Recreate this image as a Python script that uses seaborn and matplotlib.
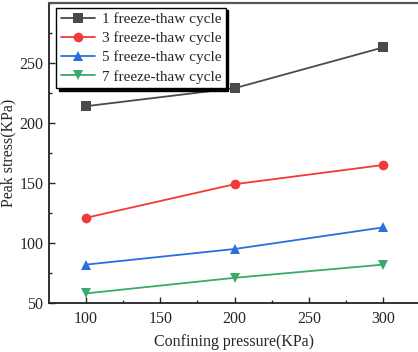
import matplotlib
matplotlib.use("Agg")
import matplotlib.pyplot as plt
import pandas as pd
import seaborn as sns
from matplotlib.ticker import MultipleLocator

pressure = [100, 200, 300]
cycle_1 = [214, 229, 263]
cycle_3 = [121, 149, 165]
cycle_5 = [82, 95, 113]
cycle_7 = [58, 71, 82]
labels = ["1 freeze-thaw cycle", "3 freeze-thaw cycle",
          "5 freeze-thaw cycle", "7 freeze-thaw cycle"]

rows = []
for lab, vals in zip(labels, [cycle_1, cycle_3, cycle_5, cycle_7]):
    for p, v in zip(pressure, vals):
        rows.append({"pressure": p, "stress": v, "series": lab})
df = pd.DataFrame(rows)

sns.set_theme(style="ticks")
plt.rcParams["font.family"] = ["Liberation Serif", "DejaVu Serif"]

colors = ["#4a4a4a", "#f03a3a", "#2a6fe0", "#3aaa6a"]
markers = ["s", "o", "^", "v"]

fig = plt.figure(figsize=(4.18, 3.52), dpi=100)
ax = fig.add_axes([49 / 418, 49 / 352, 1 - 49 / 418, 300 / 352])

sns.lineplot(data=df, x="pressure", y="stress", hue="series", style="series",
             palette=colors, markers=markers, dashes=False, markersize=7,
             markeredgewidth=0, linewidth=1.3, ax=ax)

ax.set_xlim(75.1, 323.4)
ax.set_ylim(50, 300)
ax.set_xticks([100, 150, 200, 250, 300])
ax.set_yticks([50, 100, 150, 200, 250])
ax.xaxis.set_minor_locator(MultipleLocator(25))
ax.yaxis.set_minor_locator(MultipleLocator(25))
ax.tick_params(which="major", direction="in", length=4, width=1, labelsize=11.5, pad=4)
ax.tick_params(axis="x", which="major", pad=6)
ax.tick_params(which="minor", direction="in", length=2.5, width=1)

ax.set_xlabel("Confining pressure(KPa)", fontsize=11.5, labelpad=5)
ax.set_ylabel("Peak stress(KPa)", fontsize=11.5, labelpad=2)

for s in ["left", "bottom"]:
    ax.spines[s].set_linewidth(1.3)
    ax.spines[s].set_color("#222222")
ax.spines["top"].set_linewidth(1.6)
ax.spines["top"].set_color("#555555")
ax.spines["right"].set_visible(False)

leg = ax.legend(loc="upper left", bbox_to_anchor=(0.012, 0.995), fontsize=11,
                frameon=True, fancybox=False, edgecolor="black",
                shadow={"color": "black", "alpha": 1}, handlelength=2.2,
                handletextpad=0.45, labelspacing=0.36, borderpad=0.3,
                borderaxespad=0.2)
leg.get_frame().set_linewidth(1.0)
leg.get_frame().set_alpha(1)

fig.savefig("out.png", dpi=100)
